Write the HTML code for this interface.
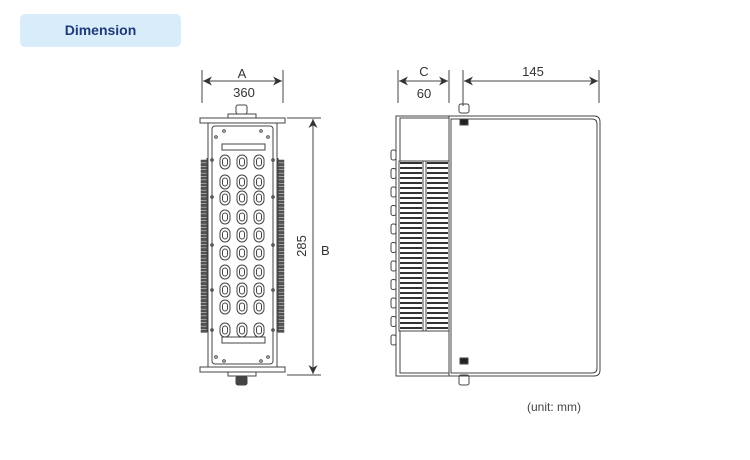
<!DOCTYPE html>
<html><head><meta charset="utf-8"><style>
body{margin:0;width:750px;height:460px;background:#fff;overflow:hidden;font-family:"Liberation Sans",sans-serif}
.badge{position:absolute;left:20px;top:14px;width:161px;height:33px;background:#d9ecf9;border-radius:5px;color:#1f3a7a;font-weight:bold;font-size:14px;text-align:center;line-height:33px}
svg{position:absolute;left:0;top:0}
</style></head><body>
<div class="badge">Dimension</div>
<svg id="s" width="750" height="460" viewBox="0 0 750 460" font-family="Liberation Sans, sans-serif" fill="none" stroke="#444" stroke-width="1">
<defs><marker id="ar" viewBox="0 0 10 10" refX="10" refY="5" markerWidth="12" markerHeight="9" markerUnits="userSpaceOnUse" orient="auto-start-reverse"><path d="M0,0 L10,5 L0,10 L3,5z" fill="#333" stroke="none"/></marker></defs>
<line x1="202" y1="70" x2="202" y2="103"/><line x1="283" y1="70" x2="283" y2="103"/>
<line x1="203" y1="81" x2="282" y2="81" marker-start="url(#ar)" marker-end="url(#ar)"/>
<text x="242" y="78" font-size="13" fill="#333" stroke="none" text-anchor="middle">A</text>
<text x="244" y="97" font-size="13" fill="#333" stroke="none" text-anchor="middle">360</text>
<line x1="287" y1="118" x2="321" y2="118"/><line x1="287" y1="375" x2="321" y2="375"/>
<line x1="313" y1="119" x2="313" y2="374" marker-start="url(#ar)" marker-end="url(#ar)"/>
<text x="0" y="0" font-size="13" fill="#333" stroke="none" text-anchor="middle" transform="translate(306,246) rotate(-90)">285</text>
<text x="321" y="255" font-size="13" fill="#333" stroke="none">B</text>
<line x1="398" y1="70" x2="398" y2="103"/><line x1="449" y1="70" x2="449" y2="103"/>
<line x1="399" y1="81" x2="448" y2="81" marker-start="url(#ar)" marker-end="url(#ar)"/>
<text x="424" y="76" font-size="13" fill="#333" stroke="none" text-anchor="middle">C</text>
<text x="424" y="98" font-size="13" fill="#333" stroke="none" text-anchor="middle">60</text>
<line x1="463" y1="70" x2="463" y2="106"/><line x1="599" y1="70" x2="599" y2="103"/>
<line x1="464" y1="81" x2="598" y2="81" marker-start="url(#ar)" marker-end="url(#ar)"/>
<text x="533" y="76" font-size="13" fill="#333" stroke="none" text-anchor="middle">145</text>
<text x="527" y="411" font-size="12" fill="#444" stroke="none">(unit: mm)</text>
<rect x="236" y="105" width="11" height="9" rx="2"/>
<rect x="228" y="114" width="28" height="4"/>
<rect x="200" y="118" width="85" height="5"/>
<rect x="208" y="123" width="69" height="244"/>
<rect x="212" y="126" width="61" height="238" rx="3"/>
<rect x="200" y="367" width="85" height="5"/>
<rect x="228" y="372" width="28" height="4"/>
<rect x="236" y="376" width="11" height="9" rx="2" fill="#444"/>
<rect x="222" y="144" width="43" height="6"/><rect x="222" y="337" width="43" height="6"/>
<g id="fr"></g>
<rect x="396" y="116" width="53" height="260"/>
<path d="M449 116 H594 Q600 116 600 122 V370 Q600 376 594 376 H449"/>
<path d="M451 119 H592 Q597 119 597 124 V368 Q597 373 592 373 H451 Z"/>
<rect x="400" y="118" width="49" height="255"/>
<rect x="399" y="161" width="50" height="170" fill="#fff"/>
<g id="sd"></g>
<rect x="459" y="104" width="10" height="9" rx="2"/><rect x="460" y="119" width="8" height="6" fill="#222"/>
<rect x="460" y="358" width="8" height="6" fill="#222"/><rect x="459" y="375" width="10" height="10" rx="2"/>
<line x1="452" y1="119" x2="505" y2="119"/><line x1="452" y1="373" x2="505" y2="373"/>
</svg>
<script>
var ns="http://www.w3.org/2000/svg";
function el(p,t,a){var e=document.createElementNS(ns,t);for(var k in a)e.setAttribute(k,a[k]);document.getElementById(p).appendChild(e);return e;}
var rows=[162,182,198,217,235,253,272,290,307,330],cols=[225,242,259];
rows.forEach(function(y){cols.forEach(function(x){
el("fr","rect",{x:x-5,y:y-7,width:10,height:14,rx:5});
el("fr","rect",{x:x-2.5,y:y-4,width:5,height:8,rx:2.5});
});});
[[216,137],[268,137],[216,357],[268,357],[224,131],[261,131],[224,361],[261,361],[212,160],[273,160],[212,197],[273,197],[212,245],[273,245],[212,290],[273,290],[212,330],[273,330]].forEach(function(p){el("fr","circle",{cx:p[0],cy:p[1],r:1.3});});
for(var y=160;y<330;y+=3.4){el("fr","rect",{x:201,y:y,width:6,height:2.4,fill:"#555","stroke-width":0.5});el("fr","rect",{x:278,y:y,width:6,height:2.4,fill:"#555","stroke-width":0.5});}
el("fr","line",{x1:207,y1:158,x2:207,y2:332});el("fr","line",{x1:278,y1:158,x2:278,y2:332});
for(var y=163;y<331;y+=5){el("sd","line",{x1:400,y1:y,x2:422,y2:y,"stroke-width":2,stroke:"#333"});el("sd","line",{x1:427,y1:y,x2:448,y2:y,"stroke-width":2,stroke:"#333"});}
el("sd","line",{x1:423,y1:161,x2:423,y2:331});el("sd","line",{x1:426,y1:161,x2:426,y2:331});
for(var y=150;y<350;y+=18.5){el("sd","rect",{x:391,y:y,width:5,height:10,rx:2});}
</script>
</body></html>
